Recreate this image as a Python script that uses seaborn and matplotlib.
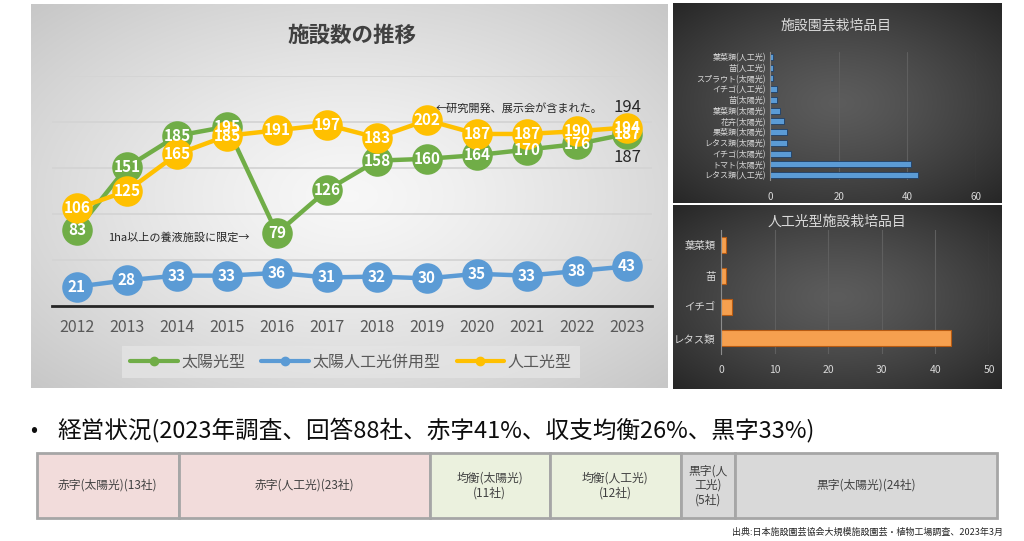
import numpy as np
import pandas as pd
import matplotlib
matplotlib.use('Agg')
import matplotlib.pyplot as plt
import seaborn as sns
from matplotlib.lines import Line2D

# ---------------- data ----------------
years = [2012, 2013, 2014, 2015, 2016, 2017, 2018, 2019, 2020, 2021, 2022, 2023]
solar = [83, 151, 185, 195, 79, 126, 158, 160, 164, 170, 176, 187]
hybrid = [21, 28, 33, 33, 36, 31, 32, 30, 35, 33, 38, 43]
artificial = [106, 125, 165, 185, 191, 197, 183, 202, 187, 187, 190, 194]
series_names = ['太陽光型', '太陽人工光併用型', '人工光型']
series_colors = ['#70ad47', '#5b9bd5', '#ffc000']

crop_items = ['葉菜類(人工光)', '苗(人工光)', 'スプラウト(太陽光)', 'イチゴ(人工光)',
              '苗(太陽光)', '葉菜類(太陽光)', '花卉(太陽光)', '果菜類(太陽光)',
              'レタス類(太陽光)', 'イチゴ(太陽光)', 'トマト(太陽光)', 'レタス類(人工光)']
crop_counts = [1, 1, 1, 2, 2, 3, 4, 5, 5, 6, 41, 43]

art_items = ['葉菜類', '苗', 'イチゴ', 'レタス類']
art_counts = [1, 1, 2, 43]

survey_labels = ['赤字(太陽光)(13社)', '赤字(人工光)(23社)', '均衡(太陽光)\n(11社)',
                 '均衡(人工光)\n(12社)', '黒字(人\n工光)\n(5社)', '黒字(太陽光)(24社)']
survey_counts = [13, 23, 11, 12, 5, 24]
survey_colors = ['#f2dcdb', '#f2dcdb', '#ebf1de', '#ebf1de', '#d9d9d9', '#d9d9d9']

# ---------------- setup ----------------
sns.set_theme(style='white')
plt.rcParams['font.family'] = ['Noto Sans CJK JP', 'DejaVu Sans']

W, H = 1024, 541
fig = plt.figure(figsize=(W / 100, H / 100), dpi=100)
fig.patch.set_facecolor('white')


def rect(x0, y0, x1, y1):
    return [x0 / W, 1 - y1 / H, (x1 - x0) / W, (y1 - y0) / H]


def grad_panel(box, inner, outer, power=1.3):
    ax = fig.add_axes(rect(*box))
    ax.set_axis_off()
    yy, xx = np.mgrid[-1:1:200j, -1:1:300j]
    r = np.clip(np.sqrt(xx ** 2 + yy ** 2) / np.sqrt(2), 0, 1) ** power
    inner = np.array(inner)
    outer = np.array(outer)
    img = inner[None, None, :] * (1 - r[..., None]) + outer[None, None, :] * r[..., None]
    ax.imshow(img, aspect='auto', extent=[0, 1, 0, 1], interpolation='bilinear')
    ax.set_zorder(0)
    return ax


grad_panel((31, 4, 668, 388), (0.97, 0.97, 0.97), (0.78, 0.78, 0.78))
grad_panel((673, 3, 1002, 203), (0.36, 0.36, 0.36), (0.15, 0.15, 0.15))
grad_panel((673, 205, 1002, 389), (0.36, 0.36, 0.36), (0.15, 0.15, 0.15))

# ---------------- main line chart ----------------
df = pd.DataFrame({
    'year': years * 3,
    'count': solar + hybrid + artificial,
    'series': [series_names[0]] * len(years) + [series_names[1]] * len(years) + [series_names[2]] * len(years),
})
ax = fig.add_axes(rect(52, 76, 652, 306))
ax.set_zorder(2)
ax.patch.set_alpha(0)
sns.lineplot(data=df, x='year', y='count', hue='series', hue_order=series_names,
             palette=series_colors, marker='o', markersize=22, markeredgewidth=0,
             linewidth=3.2, legend=False, ax=ax, sort=False)
ax.set_xlim(2011.5, 2023.5)
ax.set_ylim(0, 250)
ax.set_yticks(range(0, 251, 50))
ax.yaxis.grid(True, color='#d4d4d4', lw=1.3)
ax.set_axisbelow(True)
ax.tick_params(axis='y', length=0, labelleft=False)
ax.set_xticks(years)
ax.set_xticklabels([str(y) for y in years], fontsize=11.5, color='#595959')
ax.tick_params(axis='x', length=0, pad=9)
ax.set_xlabel('')
ax.set_ylabel('')
for s in ['top', 'left', 'right']:
    ax.spines[s].set_visible(False)
ax.spines['bottom'].set_color('#262626')
ax.spines['bottom'].set_linewidth(2)

for vals in [solar, hybrid, artificial]:
    for yr, v in zip(years, vals):
        ax.text(yr, v, str(v), ha='center', va='center', color='white',
                fontweight='bold', fontsize=11, zorder=10)

ax.text(2019.18, 215, '←研究開発、展示会が含まれた。', fontsize=8, color='#262626',
        ha='left', va='center')
ax.text(2012.62, 75, '1ha以上の養液施設に限定→', fontsize=8, color='#262626',
        ha='left', va='center')
ax.text(2023, 216, '194', fontsize=12, color='#262626', ha='center', va='center')
ax.text(2023, 161, '187', fontsize=12, color='#262626', ha='center', va='center')

fig.text(352 / W, 1 - 35 / H, '施設数の推移', fontsize=15.5, fontweight='bold',
         color='#404040', ha='center', va='center')

handles = [Line2D([0], [0], color=c, lw=3, marker='o', markersize=6) for c in series_colors]
leg = fig.legend(handles, series_names, loc='center', bbox_to_anchor=(351 / W, 1 - 362 / H),
                 ncol=3, frameon=True, facecolor='#e4e4e4', edgecolor='none', fontsize=11.5,
                 handlelength=3, columnspacing=1.0, handletextpad=0.2, labelcolor='#595959',
                 fancybox=False, borderpad=0.5)
leg.set_zorder(5)

# ---------------- top-right bar chart ----------------
ax2 = fig.add_axes(rect(770, 51.6, 976, 180.4))
ax2.set_zorder(2)
ax2.patch.set_alpha(0)
sns.barplot(x=crop_counts, y=crop_items, orient='h', color='#5b9bd5', width=0.55,
            edgecolor='#1f3f66', linewidth=0.6, saturation=1, ax=ax2)
ax2.set_xlim(0, 60)
ax2.set_xticks([0, 20, 40, 60])
ax2.xaxis.grid(True, color='#5f5f5f', lw=0.8)
ax2.set_axisbelow(True)
ax2.tick_params(axis='x', length=0, pad=8, labelsize=7, labelcolor='#d9d9d9')
ax2.tick_params(axis='y', length=0, pad=3, labelsize=5.8, labelcolor='#d9d9d9')
for s in ['top', 'right', 'bottom']:
    ax2.spines[s].set_visible(False)
ax2.spines['left'].set_color('#8c8c8c')
ax2.spines['left'].set_linewidth(0.8)
fig.text(836 / W, 1 - 25 / H, '施設園芸栽培品目', fontsize=10, color='#d9d9d9',
         ha='center', va='center')

# ---------------- bottom-right bar chart ----------------
ax3 = fig.add_axes(rect(721, 229.5, 989, 353.5))
ax3.set_zorder(2)
ax3.patch.set_alpha(0)
sns.barplot(x=art_counts, y=art_items, orient='h', color='#f6a04f', width=0.5,
            edgecolor='#b85b12', linewidth=0.8, saturation=1, ax=ax3)
ax3.set_xlim(0, 50)
ax3.set_xticks(range(0, 51, 10))
ax3.xaxis.grid(True, color='#5f5f5f', lw=0.8)
ax3.set_axisbelow(True)
ax3.tick_params(axis='x', length=0, pad=8, labelsize=7.5, labelcolor='#d9d9d9')
ax3.tick_params(axis='y', length=0, pad=4, labelsize=7.5, labelcolor='#d9d9d9')
for s in ['top', 'right', 'bottom']:
    ax3.spines[s].set_visible(False)
ax3.spines['left'].set_color('#8c8c8c')
ax3.spines['left'].set_linewidth(0.8)
fig.text(837 / W, 1 - 222 / H, '人工光型施設栽培品目', fontsize=10, color='#d9d9d9',
         ha='center', va='center')

# ---------------- bottom text and stacked bar ----------------
fig.text(30 / W, 1 - 430 / H, '•', fontsize=15, color='#0d0d0d', ha='left', va='center')
fig.text(57 / W, 1 - 430 / H, '経営状況(2023年調査、回答88社、赤字41%、収支均衡26%、黒字33%)',
         fontsize=17, color='#0d0d0d', ha='left', va='center')

ax4 = fig.add_axes(rect(37, 453, 997, 518))
ax4.set_xlim(0, sum(survey_counts))
ax4.set_ylim(0, 1)
ax4.set_axis_off()
left = 0
for lab, cnt, col in zip(survey_labels, survey_counts, survey_colors):
    ax4.barh(0.5, cnt, left=left, height=1, color=col, edgecolor='#a6a6a6', lw=2, clip_on=False)
    ax4.text(left + cnt / 2, 0.5, lab, ha='center', va='center', fontsize=8.5,
             color='#404040', linespacing=1.15)
    left += cnt

fig.text(1003 / W, 1 - 532 / H, '出典:日本施設園芸協会大規模施設園芸・植物工場調査、2023年3月',
         ha='right', va='center', fontsize=6.5, color='#262626')

fig.savefig('out.png', dpi=100)
